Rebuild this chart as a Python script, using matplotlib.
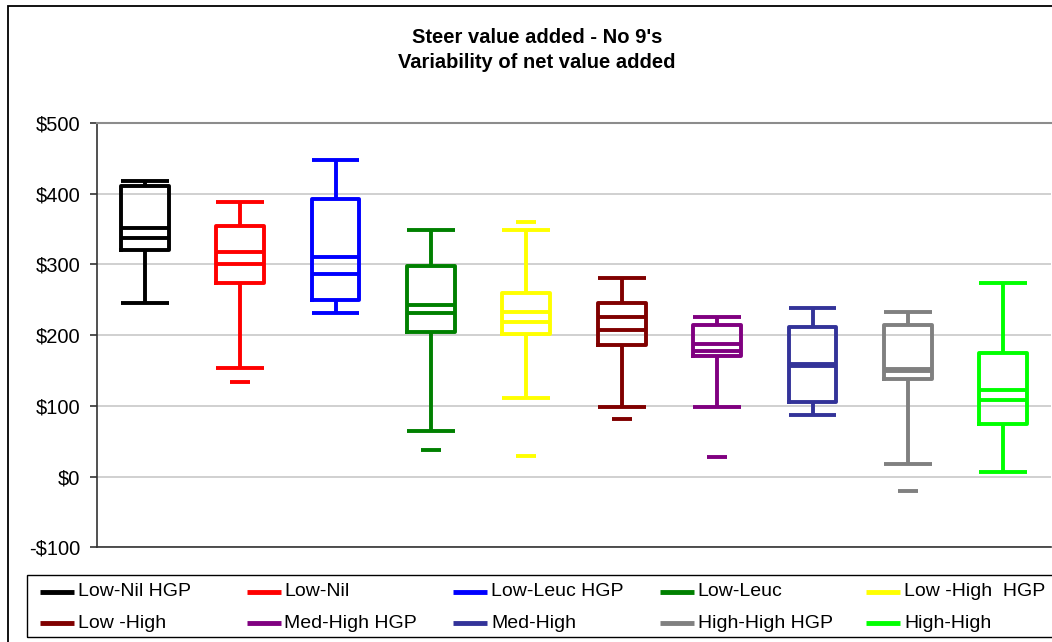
import matplotlib
matplotlib.use("Agg")
import matplotlib.pyplot as plt
from matplotlib.lines import Line2D
from matplotlib.patches import Rectangle
from matplotlib.ticker import FuncFormatter

plt.rcParams['font.family'] = ['Liberation Sans', 'DejaVu Sans']

# groups and values ($ net value added)
groups = ["Low-Nil HGP", "Low-Nil", "Low-Leuc HGP", "Low-Leuc", "Low -High  HGP",
          "Low -High", "Med-High HGP", "Med-High", "High-High HGP", "High-High"]
colors = ["#000000", "#FF0000", "#0000FF", "#008000", "#FFFF00",
          "#800000", "#800080", "#333399", "#808080", "#00FF00"]

whis_hi = [418, 388, 447, 349, 349, 281, 226, 239, 233, 274]
q3      = [411, 355, 392, 298, 260, 245, 214, 211, 214, 175]
median  = [352, 317, 311, 242, 233, 225, 188, 159, 152.5, 122]
mean    = [338, 300, 286, 232, 218, 207, 178, 157, 150, 109]
q1      = [321, 274, 250, 205, 202, 186, 170, 106, 138, 74.5]
whis_lo = [246, 153, 231, 65, 111, 99, 98, 87, 18, 6]
v_min   = [246, 134, 231, 37, 29, 81, 27, 87, -20, 6]
v_max   = [418, 388, 447, 349, 360, 281, 226, 239, 233, 274]

W, H = 1052, 642
fig = plt.figure(figsize=(W / 100, H / 100), dpi=100)
fig.patch.set_facecolor("white")

def fx(x):
    return x / W

def fy(y):
    return 1 - y / H

ax = fig.add_axes([fx(97), fy(547.3), fx(954), (547.3 - 123) / H])

lw = 2.8
for i in range(len(groups)):
    c = colors[i]
    fliers = []
    if v_min[i] < whis_lo[i]:
        fliers.append(v_min[i])
    if v_max[i] > whis_hi[i]:
        fliers.append(v_max[i])
    st = dict(whislo=whis_lo[i], q1=q1[i], med=median[i], mean=mean[i],
              q3=q3[i], whishi=whis_hi[i], fliers=fliers)
    lp = dict(color=c, linewidth=lw, solid_capstyle="butt")
    ax.bxp([st], positions=[i + 1], widths=0.5, capwidths=[0.5],
           showmeans=True, meanline=True, showfliers=True, manage_ticks=False,
           boxprops=dict(color=c, linewidth=lw, solid_joinstyle="round"),
           whiskerprops=lp, capprops=lp, medianprops=lp,
           meanprops=dict(color=c, linewidth=lw, linestyle="-", solid_capstyle="butt"),
           flierprops=dict(marker="_", markersize=14, markeredgewidth=lw,
                           markeredgecolor=c, linestyle="none"))

ax.set_xlim(0.5, 10.5)
ax.set_ylim(-100, 500)
ax.set_yticks(range(-100, 501, 100))
ax.yaxis.set_major_formatter(FuncFormatter(lambda v, p: f"-${abs(int(v))}" if v < 0 else f"${int(v)}"))
ax.set_xticks([])
ax.tick_params(axis="y", direction="out", length=5, width=1.2, color="#333333",
               labelsize=14.5, pad=7)
ax.grid(axis="y", color="#c8c8c8", linewidth=1.2)
ax.set_axisbelow(True)
for s in ["left", "bottom"]:
    ax.spines[s].set_color("#333333")
    ax.spines[s].set_linewidth(1.2)
ax.spines["top"].set_color("#8c8c8c")
ax.spines["top"].set_linewidth(1.5)
ax.spines["right"].set_visible(False)

fig.text(fx(537), fy(50), "Steer value added - No 9's\nVariability of net value added",
         ha="center", va="center", fontsize=14.5, fontweight="bold", linespacing=1.45)

# outer chart border
fig.add_artist(Rectangle((fx(8), -0.05), 1.2, fy(6) + 0.05, transform=fig.transFigure,
                         fill=False, edgecolor="black", linewidth=1.3, clip_on=False))

# legend, laid out like the Excel one
fig.add_artist(Rectangle((fx(27), fy(637)), 1.2, (637 - 575) / H, transform=fig.transFigure,
                         fill=False, edgecolor="black", linewidth=1.0, clip_on=False))
for i, name in enumerate(groups):
    col, row = i % 5, i // 5
    x0 = 40 + col * 206.5
    yc = 592 + row * 31
    fig.add_artist(Line2D([fx(x0), fx(x0 + 34)], [fy(yc), fy(yc)], transform=fig.transFigure,
                          color=colors[i], linewidth=3.5, solid_capstyle="butt"))
    fig.text(fx(x0 + 38), fy(yc), name, ha="left", va="center", fontsize=14)

fig.savefig("out.png", dpi=100)
